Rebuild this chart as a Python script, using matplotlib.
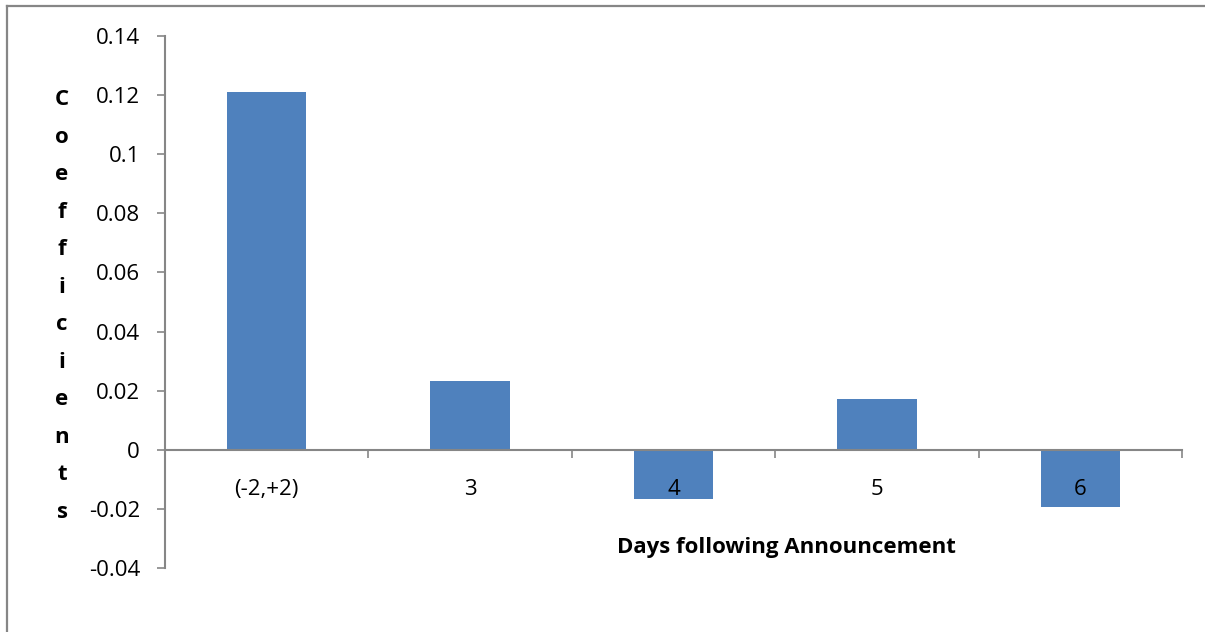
import numpy as np
import matplotlib
matplotlib.use("Agg")
import matplotlib.pyplot as plt
from matplotlib.lines import Line2D

plt.rcParams['font.family'] = ['Open Sans', 'DejaVu Sans']

# data
categories = ['(-2,+2)', '3', '4', '5', '6']
coefs = [0.1212, 0.0233, -0.0166, 0.0172, -0.0195]
yticks = [-0.04, -0.02, 0, 0.02, 0.04, 0.06, 0.08, 0.1, 0.12, 0.14]
ytick_labels = ['-0.04', '-0.02', '0', '0.02', '0.04', '0.06', '0.08', '0.1', '0.12', '0.14']

grey = '#868686'
bar_col = '#4F81BD'

fig = plt.figure(figsize=(12.05, 6.32), dpi=100)
ax = fig.add_axes([165/1205, 1-568/632, (1182-165)/1205, (568-36)/632])

x = np.arange(len(categories))
ax.bar(x, coefs, width=0.39, color=bar_col, zorder=1)

ax.set_xlim(-0.5, len(categories) - 0.5)
ax.set_ylim(-0.04, 0.14)

ax.set_yticks(yticks)
ax.set_yticklabels(ytick_labels)
ax.tick_params(axis='y', direction='out', length=6, width=1.2, color=grey,
               pad=12, labelsize=16, labelcolor='black')

# category axis sits on the zero line
ax.spines['bottom'].set_position(('data', 0))
ax.spines['bottom'].set_color(grey)
ax.spines['bottom'].set_linewidth(1.5)
ax.spines['left'].set_color(grey)
ax.spines['left'].set_linewidth(1.5)
ax.spines['top'].set_visible(False)
ax.spines['right'].set_visible(False)

ax.set_xticks(x)
ax.set_xticklabels(categories)
ax.set_xticks(np.arange(-0.5, len(categories), 1.0), minor=True)
ax.tick_params(axis='x', which='major', length=0, pad=21, labelsize=16)
ax.tick_params(axis='x', which='minor', direction='out', length=6, width=1.2, color=grey)

# stacked axis title
fig.text(62/1205, 1-306/632, '\n'.join('Coefficients'), ha='center', va='center',
         fontsize=16, fontweight='bold', linespacing=2.03)
fig.text(786/1205, 1-547/632, 'Days following Announcement', ha='center', va='center',
         fontsize=16, fontweight='bold')

# chart area border (top and left only visible)
fig.add_artist(Line2D([7/1205, 1], [1-5.5/632, 1-5.5/632], color=grey, lw=1.6,
                      transform=fig.transFigure))
fig.add_artist(Line2D([7/1205, 7/1205], [0, 1-5.5/632], color=grey, lw=1.6,
                      transform=fig.transFigure))

fig.savefig('out.png', dpi=100)
